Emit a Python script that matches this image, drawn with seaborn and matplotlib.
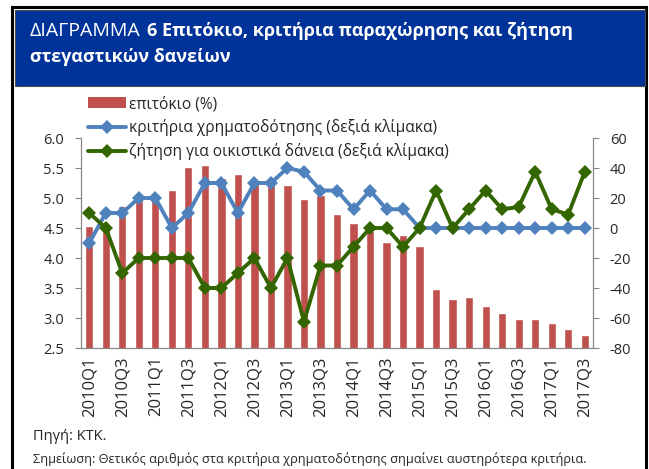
import numpy as np
import pandas as pd
import matplotlib
matplotlib.use("Agg")
import matplotlib.pyplot as plt
import seaborn as sns
from matplotlib.lines import Line2D
from matplotlib.patches import Patch, Rectangle

# quarters 2010Q1 .. 2017Q3
quarters = [f"{y}Q{q}" for y in range(2010, 2018) for q in range(1, 5)][:31]

# interest rate (%), left scale
rate = [4.54, 4.50, 4.86, 4.97, 5.00, 5.13, 5.51, 5.55, 5.34, 5.40,
        5.27, 5.25, 5.21, 4.98, 5.05, 4.74, 4.59, 4.45, 4.26, 4.39,
        4.20, 3.49, 3.31, 3.35, 3.20, 3.08, 2.98, 2.99, 2.91, 2.82, 2.71]

# credit standards (right scale)
criteria = [-10, 10, 10, 20, 20, 0, 10, 30, 30, 10,
            30, 30, 40, 37.5, 25, 25, 12.5, 25, 12.5, 12.5,
            0, 0, 0, 0, 0, 0, 0, 0, 0, 0, 0]

# demand for housing loans (right scale)
demand = [10, 0, -30, -20, -20, -20, -20, -40, -40, -30,
          -20, -40, -20, -62.5, -25, -25, -12.5, 0, 0, -12.5,
          0, 25, 0, 12.5, 25, 12.5, 14, 37.5, 12.5, 9, 37.5]

df = pd.DataFrame({"quarter": quarters, "rate": rate,
                   "criteria": criteria, "demand": demand})
df["pos"] = np.arange(len(df))

sns.set_theme(style="white")
plt.rcParams["font.family"] = ["Open Sans", "DejaVu Sans"]

red = "#C0504D"
blue = "#4F81BD"
green = "#336600"
grey = "#868686"

fig = plt.figure(figsize=(6.49, 4.69), dpi=100)

# frame and header
fig.patches.append(Rectangle((12 / 649, -0.05), 634 / 649, 1.05 - 7 / 469,
                             transform=fig.transFigure, fill=False,
                             edgecolor="black", linewidth=2.2))
fig.patches.append(Rectangle((15 / 649, 1 - 86 / 469), 630 / 649, 76 / 469,
                             transform=fig.transFigure, facecolor="#003399",
                             edgecolor="#4a4a4a", linewidth=0.8))
fig.text(30 / 649, 1 - 31 / 469, "ΔΙΑΓΡΑΜΜΑ", color="white", fontsize=14,
         va="center", ha="left")
fig.text(147 / 649, 1 - 31 / 469, "6 Επιτόκιο, κριτήρια παραχώρησης και ζήτηση",
         color="white", fontsize=13, fontweight="bold", va="center", ha="left")
fig.text(30 / 649, 1 - 57 / 469, "στεγαστικών δανείων", color="white",
         fontsize=13, fontweight="bold", va="center", ha="left")

ax = fig.add_axes([81 / 649, 1 - 348 / 469, 512 / 649, 210 / 469])
sns.barplot(data=df, x="pos", y="rate", color=red, width=0.5,
            saturation=1, ax=ax, native_scale=True)
ax.set_xlim(-0.5, len(df) - 0.5)
ax.set_ylim(2.5, 6.0)
ax.set_yticks(np.arange(2.5, 6.01, 0.5))
ax.set_yticklabels([f"{v:.1f}" for v in np.arange(2.5, 6.01, 0.5)], fontsize=10.5)
ax.set_xticks(df["pos"][::2])
ax.set_xticklabels(df["quarter"][::2], rotation=90, fontsize=12)
ax.set_xticks(np.arange(-0.5, len(df)), minor=True)
ax.tick_params(axis="x", which="major", length=0, pad=6)
ax.tick_params(axis="x", which="minor", length=4, color=grey, width=0.8)
ax.tick_params(axis="y", length=4, color=grey, width=0.8, left=True, pad=8)
ax.set_xlabel("")
ax.set_ylabel("")

ax2 = ax.twinx()
sns.lineplot(data=df, x="pos", y="criteria", color=blue, marker="D",
             markersize=7, markeredgewidth=0, linewidth=2.8, ax=ax2)
sns.lineplot(data=df, x="pos", y="demand", color=green, marker="D",
             markersize=7, markeredgewidth=0, linewidth=2.8, ax=ax2)
ax2.set_ylim(-80, 60)
ax2.set_yticks(np.arange(-80, 61, 20))
ax2.set_yticklabels([str(v) for v in range(-80, 61, 20)], fontsize=10.5)
ax2.tick_params(axis="y", length=4, color=grey, width=0.8, right=True, pad=8)
ax2.set_ylabel("")
ax2.set_xlabel("")

for a in (ax, ax2):
    a.spines["top"].set_visible(False)
    for s in ("left", "right", "bottom"):
        a.spines[s].set_color(grey)
        a.spines[s].set_linewidth(0.8)

handles = [Patch(facecolor=red, edgecolor="none"),
           Line2D([], [], color=blue, marker="D", markersize=7, linewidth=2.8,
                  markeredgewidth=0),
           Line2D([], [], color=green, marker="D", markersize=7, linewidth=2.8,
                  markeredgewidth=0)]
labels = ["επιτόκιο (%)", "κριτήρια χρηματοδότησης (δεξιά κλίμακα)",
          "ζήτηση για οικιστικά δάνεια (δεξιά κλίμακα)"]
fig.legend(handles, labels, loc="upper left",
           bbox_to_anchor=(82 / 649, 1 - 90 / 469), frameon=False,
           fontsize=11.2, handlelength=2.4, handletextpad=0.2,
           labelspacing=0.45, borderaxespad=0)

fig.text(33 / 649, 1 - 437 / 469, "Πηγή: ΚΤΚ.", fontsize=10.5, va="center")
fig.text(33 / 649, 1 - 459 / 469,
         "Σημείωση: Θετικός αριθμός στα κριτήρια χρηματοδότησης σημαίνει αυστηρότερα κριτήρια.",
         fontsize=9.2, va="center")

fig.savefig("out.png", dpi=100)
